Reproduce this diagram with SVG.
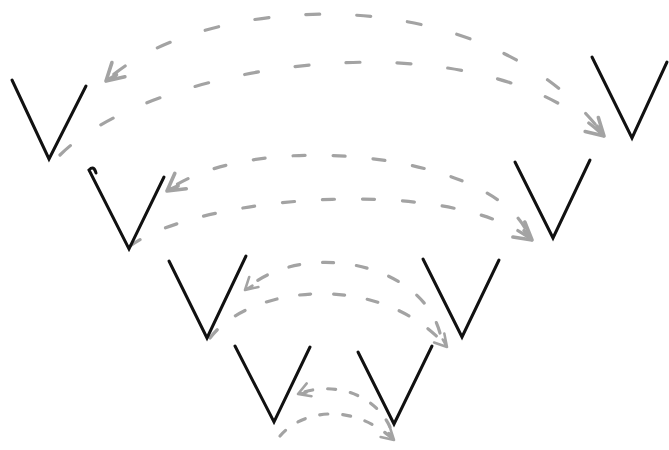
<svg xmlns="http://www.w3.org/2000/svg" width="669" height="450" viewBox="0 0 669 450">
  <style>
    .v { fill: none; stroke: #111; stroke-width: 3; stroke-linecap: round; stroke-linejoin: miter; }
    .arc { fill: none; stroke: #a3a3a3; stroke-width: 3.2; stroke-linecap: round; }
    .a1 { stroke-dasharray: 14 37; }
    .a2 { stroke-dasharray: 12 28; }
    .a3 { stroke-dasharray: 11 23; }
    .a4 { stroke-dasharray: 8 15; }
    .head { fill: none; stroke: #a3a3a3; stroke-width: 3; stroke-linecap: round; stroke-linejoin: round; stroke-dasharray: none; }
  </style>
  <defs>
    <marker id="arrL" viewBox="0 0 20 20" refX="18" refY="10" markerWidth="24" markerHeight="24" markerUnits="userSpaceOnUse" orient="auto">
      <path class="head" d="M4,2 L18,10 L4,18 M8,8 L18,10"/>
    </marker>
    <marker id="arrS" viewBox="0 0 20 20" refX="18" refY="10" markerWidth="17" markerHeight="17" markerUnits="userSpaceOnUse" orient="auto">
      <path class="head" d="M4,2 L18,10 L4,18 M8,8 L18,10"/>
    </marker>
  </defs>

  <g id="connectors">
    <path class="arc a1" d="M595,124 C470,-25 200,-5 106,81" marker-end="url(#arrL)"/>
    <path class="arc a1" d="M60,155 C150,65 470,10 604,136" marker-end="url(#arrL)"/>
    <path class="arc a2" d="M525,228 C480,150 250,130 167,191" marker-end="url(#arrL)"/>
    <path class="arc a2" d="M130,246 C200,195 450,175 532,240" marker-end="url(#arrL)"/>
    <path class="arc a3" d="M440,333 C420,260 300,240 245,290" marker-end="url(#arrS)"/>
    <path class="arc a3" d="M210,338 C250,285 380,270 447,347" marker-end="url(#arrS)"/>
    <path class="arc a4" d="M390,427 C375,395 335,380 298,394" marker-end="url(#arrS)"/>
    <path class="arc a4" d="M280,436 C300,412 350,400 394,440" marker-end="url(#arrS)"/>
  </g>

  <g id="v1"><path class="v" d="M12,80 L49,159 L86,86"/></g>
  <g id="v2"><path class="v" d="M592,57 L632,138 L667,62"/></g>
  <g id="v3"><path class="v" d="M96,173 Q94,165 89,170 L129,249 L164,177"/></g>
  <g id="v4"><path class="v" d="M515,162 L553,238 L590,160"/></g>
  <g id="v5"><path class="v" d="M169,261 L207,338 L246,256"/></g>
  <g id="v6"><path class="v" d="M423,259 L462,337 L499,260"/></g>
  <g id="v7"><path class="v" d="M235,346 L274,422 L310,347"/></g>
  <g id="v8"><path class="v" d="M358,352 L394,424 L432,346"/></g>
</svg>
